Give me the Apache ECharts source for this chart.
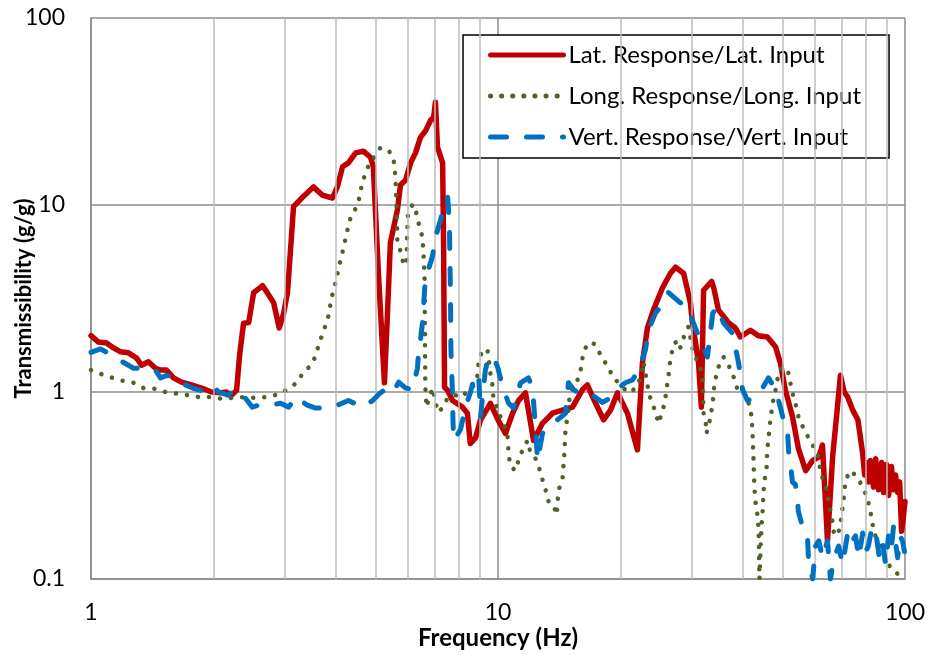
<!DOCTYPE html>
<html>
<head>
<meta charset="utf-8">
<script src="https://cdn.jsdelivr.net/npm/echarts@6/dist/echarts.min.js"></script>
<style>
  html, body { margin: 0; padding: 0; background: #fff; }
  #chart { width: 928px; height: 655px; }
</style>
</head>
<body>
<div id="chart"></div>
<script>
// Transmissibility curves: frequency (Hz) and response/input ratio (g/g)
const latFreq = [1.0, 1.043, 1.092, 1.136, 1.182, 1.236, 1.294, 1.331, 1.384, 1.440, 1.482, 1.533, 1.595, 1.669, 1.766, 1.868, 1.978, 2.081, 2.152, 2.214, 2.278, 2.32, 2.37, 2.44, 2.51, 2.64, 2.71, 2.81, 2.90, 2.97, 3.04, 3.145, 3.31, 3.52, 3.70, 3.92, 4.03, 4.15, 4.29, 4.47, 4.67, 4.86, 4.94, 5.09, 5.26, 5.35, 5.44, 5.66, 5.76, 5.93, 6.10, 6.27, 6.45, 6.64, 6.83, 6.95, 7.02, 7.10, 7.31, 7.35, 7.39, 7.52, 7.73, 8.18, 8.41, 8.55, 8.81, 9.06, 9.58, 10.0, 10.43, 10.86, 11.23, 11.68, 12.23, 12.86, 13.61, 14.40, 15.24, 16.13, 16.58, 17.37, 18.17, 18.90, 19.66, 20.80, 22.01, 22.64, 23.29, 24.10, 25.35, 26.5, 27.3, 28.6, 29.7, 30.0, 31.1, 31.6, 32.0, 33.5, 33.9, 34.8, 36.9, 38.3, 39.4, 41.7, 43.6, 45.9, 48.1, 49.4, 50.8, 52.9, 54.7, 57.0, 59.3, 61.4, 62.7, 64.5, 66.4, 68.3, 69.4, 70.9, 72.3, 74.4, 76.6, 77.9, 78.7, 79.6, 80.5, 81.3, 82.2, 83.7, 84.7, 86.1, 87.6, 88.6, 90.1, 91.1, 92.6, 93.7, 94.8, 95.9, 97.0, 98.1, 99.2, 100];
const latVal = [2.0, 1.85, 1.83, 1.72, 1.64, 1.62, 1.52, 1.39, 1.45, 1.34, 1.31, 1.31, 1.19, 1.13, 1.09, 1.05, 1.0, 0.99, 1.0, 0.96, 1.02, 1.6, 2.33, 2.35, 3.4, 3.7, 3.4, 3.0, 2.2, 2.6, 3.4, 9.8, 11, 12.5, 11.3, 10.9, 12.5, 16, 16.8, 19, 19.4, 18, 16, 4.1, 1.12, 2.6, 6.3, 9.4, 12.8, 13.6, 16.8, 19, 23, 25, 28.4, 29.5, 35.5, 20.4, 16.8, 6.3, 1.06, 1.02, 0.9, 0.83, 0.77, 0.53, 0.57, 0.71, 0.87, 0.71, 0.6, 0.77, 0.9, 0.99, 0.55, 0.68, 0.77, 0.8, 0.83, 1.03, 1.09, 0.87, 0.71, 0.8, 0.99, 0.77, 0.49, 1.43, 2.2, 2.75, 3.6, 4.3, 4.65, 4.3, 3.0, 2.4, 1.43, 0.83, 3.5, 3.9, 3.6, 2.75, 2.34, 2.2, 1.97, 2.14, 2.0, 1.97, 1.74, 1.43, 1.03, 0.74, 0.5, 0.38, 0.43, 0.45, 0.52, 0.16, 0.45, 0.85, 1.23, 1.0, 0.94, 0.8, 0.71, 0.55, 0.47, 0.36, 0.42, 0.33, 0.43, 0.31, 0.44, 0.30, 0.42, 0.29, 0.41, 0.28, 0.40, 0.30, 0.36, 0.29, 0.33, 0.18, 0.22, 0.26];

const longFreq = [1.0, 1.055, 1.129, 1.195, 1.272, 1.346, 1.439, 1.524, 1.631, 1.736, 1.837, 1.967, 2.104, 2.228, 2.371, 2.536, 2.714, 2.873, 3.056, 3.216, 3.327, 3.501, 3.642, 3.724, 3.810, 3.855, 3.9, 3.966, 4.08, 4.15, 4.27, 4.34, 4.47, 4.57, 4.62, 4.70, 4.81, 4.97, 5.14, 5.38, 5.54, 5.60, 5.63, 5.65, 5.66, 5.79, 5.86, 5.96, 5.98, 6.01, 6.16, 6.27, 6.30, 6.38, 6.45, 6.52, 6.56, 6.60, 6.61, 6.62, 6.63, 6.67, 6.90, 7.02, 7.10, 7.31, 7.52, 7.86, 8.18, 8.41, 8.71, 8.91, 8.96, 9.16, 9.42, 9.58, 9.69, 9.74, 9.98, 10.55, 10.62, 10.74, 11.04, 11.23, 11.49, 11.82, 12.02, 12.37, 12.59, 12.86, 13.09, 13.31, 13.68, 13.93, 14.09, 14.40, 14.49, 14.56, 14.65, 14.82, 14.99, 15.24, 15.68, 15.96, 16.13, 16.40, 16.87, 17.37, 17.86, 18.37, 18.90, 19.22, 19.77, 20.34, 20.92, 21.53, 22.15, 22.64, 22.78, 23.03, 23.29, 23.42, 23.96, 24.37, 24.80, 25.50, 25.79, 26.09, 26.39, 26.54, 26.99, 27.30, 27.75, 28.38, 28.54, 29.36, 30.03, 30.54, 31.41, 31.79, 31.9, 32.0, 32.4, 32.5, 32.9, 33.3, 33.7, 33.9, 34.2, 34.6, 35.2, 35.8, 36.6, 37.7, 38.3, 39.0, 40.1, 41.0, 41.7, 42.0, 42.2, 42.3, 42.4, 42.5, 42.55, 42.7, 42.9, 43.4, 43.7, 43.8, 43.9, 44.2, 44.4, 44.7, 44.9, 45.2, 45.7, 45.9, 46.2, 46.7, 47.3, 48.1, 48.9, 50.0, 51.5, 52.9, 53.8, 54.7, 56.3, 57.9, 59.6, 60.9, 62.0, 63.1, 64.5, 64.9, 66.4, 66.7, 68.3, 69.5, 70.7, 71.5, 73.5, 76.4, 78.7, 80.9, 82.2, 83.2, 83.7, 86.1, 89.5, 92.1, 94.8, 97.4, 100];
const longVal = [1.31, 1.25, 1.19, 1.15, 1.12, 1.05, 1.04, 1.0, 0.98, 0.96, 0.94, 0.94, 0.92, 0.93, 0.94, 0.93, 0.94, 0.97, 1.04, 1.13, 1.28, 1.41, 1.83, 2.12, 2.4, 2.75, 3.2, 3.65, 4.8, 5.6, 7.4, 8.5, 9.6, 11, 12.6, 14.3, 16.3, 18, 20.2, 19.7, 17.6, 14, 9.9, 7.4, 6.3, 5.5, 4.8, 4.8, 7.0, 8.8, 10, 9.9, 9.0, 8.0, 7.4, 6.7, 5.5, 4.0, 2.5, 1.5, 1.05, 0.83, 1.05, 0.9, 0.78, 0.82, 0.93, 0.96, 0.94, 1.02, 1.08, 1.23, 1.45, 1.68, 1.68, 1.26, 1.09, 0.94, 0.8, 0.6, 0.46, 0.40, 0.38, 0.43, 0.49, 0.55, 0.47, 0.44, 0.40, 0.34, 0.30, 0.26, 0.25, 0.22, 0.30, 0.34, 0.41, 0.47, 0.63, 0.74, 0.93, 1.07, 1.16, 1.31, 1.52, 1.72, 1.85, 1.79, 1.58, 1.43, 1.28, 1.19, 1.12, 1.05, 0.99, 1.03, 1.12, 1.34, 1.45, 1.26, 1.12, 0.99, 0.87, 0.78, 0.68, 0.83, 0.94, 1.13, 1.34, 1.54, 1.74, 1.85, 1.68, 1.79, 1.94, 2.23, 1.72, 1.54, 1.36, 1.16, 0.94, 0.77, 0.68, 0.6, 0.65, 0.75, 0.87, 1.03, 1.16, 1.31, 1.45, 1.54, 1.43, 1.26, 1.12, 0.99, 0.99, 0.9, 0.83, 0.72, 0.61, 0.53, 0.46, 0.40, 0.35, 0.30, 0.26, 0.22, 0.18, 0.13, 0.1, 0.15, 0.19, 0.23, 0.29, 0.34, 0.39, 0.49, 0.57, 0.71, 0.87, 1.03, 1.26, 1.36, 1.31, 0.99, 0.87, 0.74, 0.64, 0.57, 0.51, 0.47, 0.38, 0.33, 0.29, 0.26, 0.20, 0.18, 0.17, 0.20, 0.27, 0.34, 0.38, 0.35, 0.31, 0.27, 0.23, 0.20, 0.18, 0.155, 0.13, 0.115, 0.108, 0.105, 0.1];

const vertFreq = [1.0, 1.055, 1.098, 1.195, 1.272, 1.361, 1.439, 1.481, 1.541, 1.631, 1.707, 1.776, 1.911, 2.0, 2.057, 2.177, 2.239, 2.33, 2.42, 2.49, 2.58, 2.76, 2.92, 3.06, 3.18, 3.40, 3.56, 3.83, 4.03, 4.29, 4.65, 4.92, 5.14, 5.35, 5.54, 5.70, 5.93, 6.16, 6.34, 6.38, 6.45, 6.52, 6.56, 6.63, 6.90, 7.02, 7.22, 7.35, 7.52, 7.55, 7.60, 7.62, 7.64, 7.65, 7.66, 7.69, 7.73, 7.75, 7.78, 8.09, 8.32, 8.55, 8.71, 8.96, 9.06, 9.31, 9.48, 9.74, 9.98, 10.26, 10.62, 10.92, 11.36, 11.88, 12.16, 12.37, 12.51, 12.86, 13.31, 14.0, 14.65, 14.90, 15.33, 16.13, 17.08, 18.06, 18.90, 19.77, 20.56, 21.40, 22.15, 23.03, 23.42, 24.37, 25.07, 25.79, 26.24, 28.07, 29.36, 30.2, 31.4, 32.7, 33.7, 34.6, 35.8, 37.7, 38.3, 39.0, 39.9, 41.0, 42.9, 44.9, 46.2, 48.1, 49.4, 50.3, 51.5, 51.8, 52.4, 52.9, 53.8, 54.4, 54.7, 56.0, 57.6, 57.9, 59.3, 60.3, 61.4, 62.7, 64.5, 65.6, 66.7, 68.7, 70.3, 72.3, 73.5, 75.6, 77.0, 78.7, 80.0, 81.3, 83.0, 84.7, 86.5, 88.1, 89.6, 91.1, 92.4, 93.7, 95.9, 97.2, 98.6, 99.7];
const vertVal = [1.63, 1.7, 1.62, 1.45, 1.34, 1.34, 1.31, 1.19, 1.23, 1.12, 1.09, 1.05, 1.0, 1.07, 1.0, 0.96, 1.03, 1.0, 0.9, 0.83, 0.85, 0.85, 0.87, 0.83, 0.94, 0.85, 0.82, 0.82, 0.85, 0.9, 0.83, 0.9, 0.99, 1.05, 1.0, 1.13, 1.05, 1.03, 1.34, 1.63, 1.9, 2.34, 2.85, 4.0, 5.3, 6.7, 8.3, 9.8, 11, 9.8, 7.4, 5.0, 3.5, 2.6, 1.74, 1.31, 0.99, 0.71, 0.55, 0.63, 0.83, 0.99, 1.16, 1.26, 0.74, 1.31, 1.54, 1.54, 1.36, 1.07, 0.87, 0.82, 1.12, 1.19, 1.05, 0.63, 0.43, 0.6, 0.65, 0.71, 0.77, 1.12, 1.03, 0.96, 0.96, 0.88, 0.93, 1.05, 1.12, 1.16, 1.31, 1.68, 2.14, 2.64, 2.85, 3.2, 3.4, 3.0, 2.85, 2.34, 1.9, 1.54, 2.64, 2.85, 2.34, 2.06, 1.74, 1.43, 1.03, 0.9, 0.94, 1.07, 1.19, 1.03, 0.83, 0.71, 0.6, 0.47, 0.40, 0.33, 0.32, 0.27, 0.23, 0.19, 0.17, 0.13, 0.1, 0.15, 0.16, 0.13, 0.16, 0.1, 0.126, 0.15, 0.12, 0.176, 0.155, 0.17, 0.13, 0.176, 0.14, 0.15, 0.19, 0.18, 0.13, 0.155, 0.12, 0.17, 0.14, 0.19, 0.13, 0.17, 0.16, 0.14];

// Intermediate frequencies that get their own vertical grid line
const minorGridFreqs = [2, 3, 4, 5, 6, 7, 8, 9, 20, 30, 40, 50, 60, 70, 80, 90];

const seriesNames = ['Lat. Response/Lat. Input', 'Long. Response/Long. Input', 'Vert. Response/Vert. Input'];

const pairs = (xs, ys) => xs.map((x, i) => [x, ys[i]]);

const FONT = 'Lato, "Open Sans", sans-serif';
const MAJOR = '#8c8c8c';
const MINOR = '#bcbcbc';

const chart = echarts.init(document.getElementById('chart'));
chart.setOption({
  animation: false,
  backgroundColor: '#fff',
  textStyle: { fontFamily: FONT },
  grid: { left: 91, right: 23, top: 18, bottom: 76, containLabel: false, outerBoundsMode: 'none' },
  legend: {
    data: seriesNames,
    orient: 'vertical',
    left: 463,
    top: 35,
    itemWidth: 73,
    itemHeight: 24,
    itemGap: 17,
    padding: [8, 28, 9, 25],
    borderColor: '#000',
    borderWidth: 1.5,
    backgroundColor: '#fff',
    itemStyle: { opacity: 0 },
    lineStyle: { width: 5, cap: 'round' },
    textStyle: { fontSize: 24, color: '#000', fontFamily: FONT }
  },
  xAxis: {
    type: 'log',
    logBase: 10,
    min: 1,
    max: 100,
    name: 'Frequency (Hz)',
    nameLocation: 'middle',
    nameGap: 47,
    nameMoveOverlap: false,
    nameTextStyle: { fontSize: 24, fontWeight: 'bold', color: '#000', fontFamily: FONT },
    axisLine: { lineStyle: { color: MAJOR, width: 1.5 } },
    axisTick: { show: false },
    axisLabel: { fontSize: 23, color: '#000', margin: 22, fontFamily: FONT },
    splitLine: { show: true, lineStyle: { color: MAJOR, width: 1.5 } }
  },
  yAxis: {
    type: 'log',
    logBase: 10,
    min: 0.1,
    max: 100,
    name: 'Transmissibility (g/g)',
    nameLocation: 'middle',
    nameGap: 56,
    nameMoveOverlap: false,
    nameTextStyle: { fontSize: 22, fontWeight: 'bold', color: '#000', fontFamily: FONT },
    axisLine: { show: true, lineStyle: { color: MAJOR, width: 1.5 } },
    axisTick: { show: false },
    axisLabel: {
      fontSize: 23, color: '#000', margin: 26, fontFamily: FONT,
      formatter: v => (v < 1 ? v.toFixed(1) : String(Math.round(v)))
    },
    splitLine: { show: true, lineStyle: { color: MAJOR, width: 1.5 } }
  },
  series: [
    {
      name: 'minor-grid',
      type: 'line',
      data: [],
      silent: true,
      z: 1,
      markLine: {
        silent: true,
        symbol: ['none', 'none'],
        label: { show: false },
        lineStyle: { color: MINOR, width: 1.5, type: 'solid' },
        data: minorGridFreqs.map(f => ({ xAxis: f }))
      }
    },
    {
      name: seriesNames[0],
      type: 'line',
      data: pairs(latFreq, latVal),
      showSymbol: false,
      symbol: 'none',
      z: 3,
      color: '#c00000',
      lineStyle: { color: '#c00000', width: 5.5, cap: 'round', join: 'round' }
    },
    {
      name: seriesNames[1],
      type: 'line',
      data: pairs(longFreq, longVal),
      showSymbol: false,
      symbol: 'none',
      z: 4,
      color: '#4f6228',
      lineStyle: { color: '#4f6228', width: 4.5, type: [0.1, 11], cap: 'round', join: 'round' }
    },
    {
      name: seriesNames[2],
      type: 'line',
      data: pairs(vertFreq, vertVal),
      showSymbol: false,
      symbol: 'none',
      z: 5,
      color: '#0070c0',
      lineStyle: { color: '#0070c0', width: 5, type: [16, 20], cap: 'round', join: 'round' }
    }
  ]
});
</script>
</body>
</html>
